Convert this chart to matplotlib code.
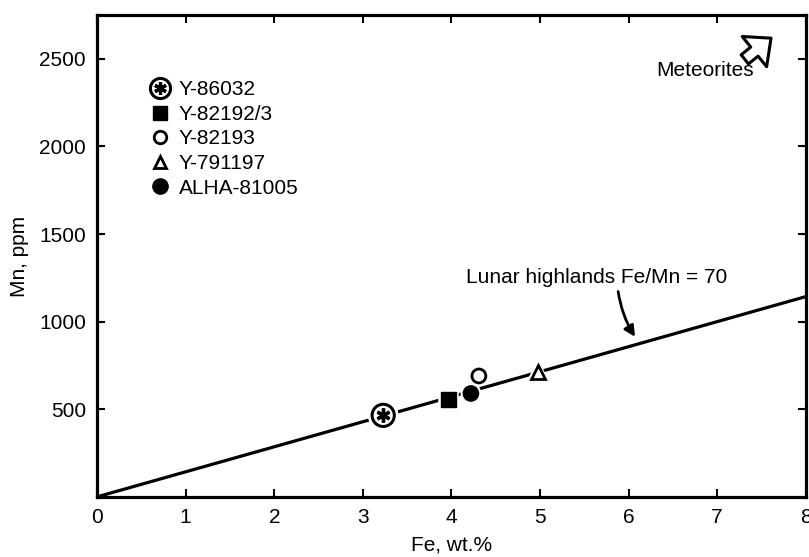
import matplotlib
matplotlib.use('Agg')
from matplotlib import pyplot as plt
from matplotlib.legend_handler import HandlerTuple
import matplotlib.patheffects as pe
import numpy as np

plt.rcParams['font.family'] = ['Liberation Sans', 'DejaVu Sans']

# samples (Fe wt.%, Mn ppm)
names = ['Y-86032', 'Y-82192/3', 'Y-82193', 'Y-791197', 'ALHA-81005']
fe = [3.23, 3.97, 4.31, 4.98, 4.22]
mn = [465, 555, 690, 715, 590]

# lunar highlands Fe/Mn = 70 line
fe_line = np.array([0, 8])
ratio = 70

xticks = [0, 1, 2, 3, 4, 5, 6, 7, 8]
yticks = [500, 1000, 1500, 2000, 2500]

FS = 15

fig = plt.figure(figsize=(8.09, 5.57), dpi=100)
ax = fig.add_axes([0.12, 0.108, 0.876, 0.865])

ax.plot(fe_line, fe_line * 10000 / ratio, color='black', lw=2.3, zorder=1)

h0a, = ax.plot(fe[0], mn[0], 'o', ms=16, mfc='white', mec='black', mew=2.2, zorder=3)
h0a.set_path_effects([pe.Stroke(linewidth=6, foreground='white'), pe.Normal()])
h0b, = ax.plot(fe[0], mn[0], marker=(6, 2, 0), ms=10, mec='black', mew=2.4, ls='none', zorder=4)
h1, = ax.plot(fe[1], mn[1], 's', ms=11, mfc='black', mec='black', zorder=3)
h2, = ax.plot(fe[2], mn[2], 'o', ms=10, mfc='white', mec='black', mew=2, zorder=3)
h3, = ax.plot(fe[3], mn[3], '^', ms=10, mfc='white', mec='black', mew=2, zorder=3)
h4, = ax.plot(fe[4], mn[4], 'o', ms=11, mfc='black', mec='black', zorder=3)
for h in (h1, h2, h3, h4):
    h.set_path_effects([pe.Stroke(linewidth=4, foreground='white'), pe.Normal()])

# legend handles
l0a, = ax.plot([], [], 'o', ms=14.5, mfc='white', mec='black', mew=2.2)
l0b, = ax.plot([], [], marker=(6, 2, 0), ms=9, mec='black', mew=2.3, ls='none')
l1, = ax.plot([], [], 's', ms=10, color='black')
l2, = ax.plot([], [], 'o', ms=9, mfc='white', mec='black', mew=2)
l3, = ax.plot([], [], '^', ms=9, mfc='white', mec='black', mew=2)
l4, = ax.plot([], [], 'o', ms=11, color='black')
ax.legend([(l0a, l0b), l1, l2, l3, l4], names,
          handler_map={tuple: HandlerTuple(ndivide=1, pad=0)},
          loc='upper left', bbox_to_anchor=(0.064, 0.882), frameon=False,
          fontsize=FS, handlelength=0.9, handletextpad=0.45, labelspacing=0.27,
          borderaxespad=0)

ax.annotate('Lunar highlands Fe/Mn = 70', xy=(6.09, 900), xytext=(5.64, 1250),
            ha='center', va='center', fontsize=FS,
            arrowprops=dict(arrowstyle='-|>', color='black', lw=2,
                            connectionstyle='arc3,rad=0.12', relpos=(0.58, 0.0),
                            shrinkA=1, shrinkB=2, mutation_scale=16))

ax.text(0.858, 0.884, 'Meteorites', transform=ax.transAxes, ha='center', va='center', fontsize=FS)
ax.annotate('', xy=(0.951, 0.952), xytext=(0.914, 0.908),
            xycoords='axes fraction', textcoords='axes fraction',
            arrowprops=dict(arrowstyle='simple,head_width=2.0,head_length=1.1,tail_width=0.6',
                            fc='white', ec='black', lw=2.2, mutation_scale=14,
                            shrinkA=0, shrinkB=0))

ax.set_xlim(0, 8)
ax.set_ylim(0, 2750)
ax.set_xticks(xticks)
ax.set_yticks(yticks)
ax.tick_params(direction='in', length=6, width=1.5, top=True, right=True,
               labelsize=FS, pad=8)
for s in ax.spines.values():
    s.set_linewidth(2.3)

ax.set_xlabel('Fe, wt.%', fontsize=FS, labelpad=6)
ax.set_ylabel('Mn, ppm', fontsize=FS, labelpad=7)

fig.savefig('out.png', dpi=100)
